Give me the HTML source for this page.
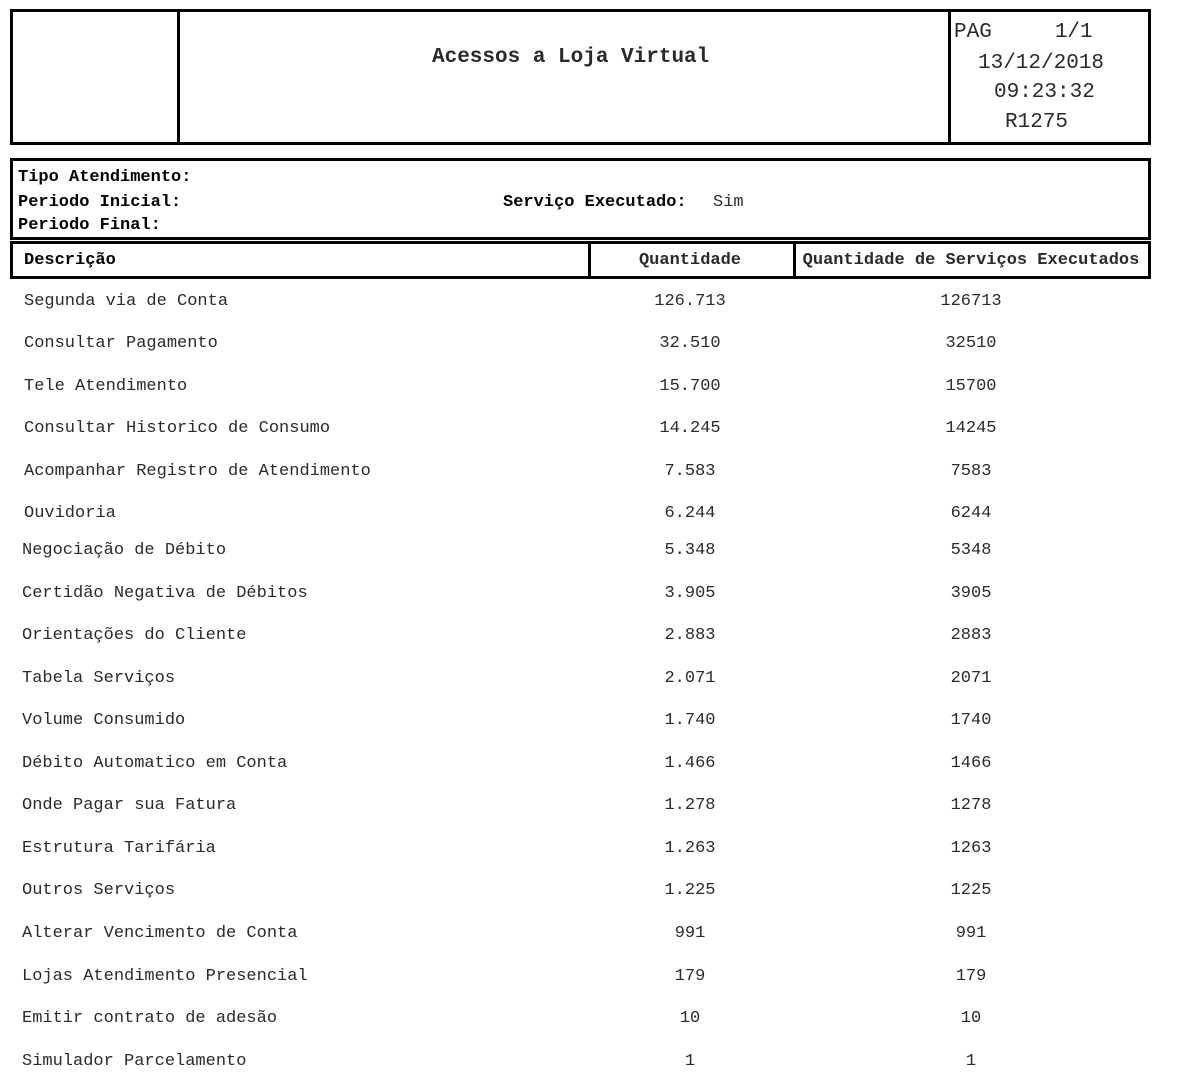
<!DOCTYPE html>
<html>
<head>
<meta charset="utf-8">
<style>
html,body{margin:0;padding:0;background:#fff;}
body{width:1179px;height:1082px;position:relative;overflow:hidden;font-family:"Liberation Mono","Courier New",monospace;}
.box{position:absolute;left:10px;width:1141px;border:3px solid #000;box-sizing:border-box;}
.v{position:absolute;width:3px;background:#000;}
.t{position:absolute;white-space:pre;font-size:17px;line-height:17px;color:#2a2a2a;}
.b{font-weight:bold;color:#000;}
.L{position:absolute;white-space:pre;font-size:21px;line-height:21px;color:#2a2a2a;}
.c2{position:absolute;left:590px;width:200px;text-align:center;font-size:17px;line-height:17px;color:#2a2a2a;white-space:pre;}
.c3{position:absolute;left:771px;width:400px;text-align:center;font-size:17px;line-height:17px;color:#2a2a2a;white-space:pre;}
</style>
</head>
<body>
<!-- Box 1 -->
<div class="box" style="top:9px;height:136px;"></div>
<div class="v" style="left:177px;top:9px;height:136px;"></div>
<div class="v" style="left:948px;top:9px;height:136px;"></div>
<div class="L b" style="left:432px;top:47px;">Acessos a Loja Virtual</div>
<div class="L" style="left:954px;top:22px;">PAG     1/1</div>
<div class="L" style="left:978px;top:53px;">13/12/2018</div>
<div class="L" style="left:994px;top:82px;">09:23:32</div>
<div class="L" style="left:1005px;top:112px;">R1275</div>

<!-- Box 2 -->
<div class="box" style="top:158px;height:82px;"></div>
<div class="t b" style="left:18px;top:169px;">Tipo Atendimento:</div>
<div class="t b" style="left:18px;top:194px;">Periodo Inicial:</div>
<div class="t b" style="left:18px;top:217px;">Periodo Final:</div>
<div class="t b" style="left:503px;top:194px;">Serviço Executado:</div>
<div class="t" style="left:713px;top:194px;">Sim</div>

<!-- Box 3 header row -->
<div class="box" style="top:241px;height:38px;"></div>
<div class="v" style="left:588px;top:241px;height:38px;"></div>
<div class="v" style="left:793px;top:241px;height:38px;"></div>
<div class="t b" style="left:24px;top:252px;">Descrição</div>
<div class="c2 b" style="top:252px;">Quantidade</div>
<div class="c3 b" style="top:252px;">Quantidade de Serviços Executados</div>

<!-- Rows -->
<div class="t" style="left:24px;top:293px;">Segunda via de Conta</div>
<div class="c2" style="top:293px;">126.713</div><div class="c3" style="top:293px;">126713</div>

<div class="t" style="left:24px;top:335px;">Consultar Pagamento</div>
<div class="c2" style="top:335px;">32.510</div><div class="c3" style="top:335px;">32510</div>

<div class="t" style="left:24px;top:378px;">Tele Atendimento</div>
<div class="c2" style="top:378px;">15.700</div><div class="c3" style="top:378px;">15700</div>

<div class="t" style="left:24px;top:420px;">Consultar Historico de Consumo</div>
<div class="c2" style="top:420px;">14.245</div><div class="c3" style="top:420px;">14245</div>

<div class="t" style="left:24px;top:463px;">Acompanhar Registro de Atendimento</div>
<div class="c2" style="top:463px;">7.583</div><div class="c3" style="top:463px;">7583</div>

<div class="t" style="left:24px;top:505px;">Ouvidoria</div>
<div class="c2" style="top:505px;">6.244</div><div class="c3" style="top:505px;">6244</div>

<div class="t" style="left:22px;top:542px;">Negociação de Débito</div>
<div class="c2" style="top:542px;">5.348</div><div class="c3" style="top:542px;">5348</div>

<div class="t" style="left:22px;top:585px;">Certidão Negativa de Débitos</div>
<div class="c2" style="top:585px;">3.905</div><div class="c3" style="top:585px;">3905</div>

<div class="t" style="left:22px;top:627px;">Orientações do Cliente</div>
<div class="c2" style="top:627px;">2.883</div><div class="c3" style="top:627px;">2883</div>

<div class="t" style="left:22px;top:670px;">Tabela Serviços</div>
<div class="c2" style="top:670px;">2.071</div><div class="c3" style="top:670px;">2071</div>

<div class="t" style="left:22px;top:712px;">Volume Consumido</div>
<div class="c2" style="top:712px;">1.740</div><div class="c3" style="top:712px;">1740</div>

<div class="t" style="left:22px;top:755px;">Débito Automatico em Conta</div>
<div class="c2" style="top:755px;">1.466</div><div class="c3" style="top:755px;">1466</div>

<div class="t" style="left:22px;top:797px;">Onde Pagar sua Fatura</div>
<div class="c2" style="top:797px;">1.278</div><div class="c3" style="top:797px;">1278</div>

<div class="t" style="left:22px;top:840px;">Estrutura Tarifária</div>
<div class="c2" style="top:840px;">1.263</div><div class="c3" style="top:840px;">1263</div>

<div class="t" style="left:22px;top:882px;">Outros Serviços</div>
<div class="c2" style="top:882px;">1.225</div><div class="c3" style="top:882px;">1225</div>

<div class="t" style="left:22px;top:925px;">Alterar Vencimento de Conta</div>
<div class="c2" style="top:925px;">991</div><div class="c3" style="top:925px;">991</div>

<div class="t" style="left:22px;top:968px;">Lojas Atendimento Presencial</div>
<div class="c2" style="top:968px;">179</div><div class="c3" style="top:968px;">179</div>

<div class="t" style="left:22px;top:1010px;">Emitir contrato de adesão</div>
<div class="c2" style="top:1010px;">10</div><div class="c3" style="top:1010px;">10</div>

<div class="t" style="left:22px;top:1053px;">Simulador Parcelamento</div>
<div class="c2" style="top:1053px;">1</div><div class="c3" style="top:1053px;">1</div>
</body>
</html>
